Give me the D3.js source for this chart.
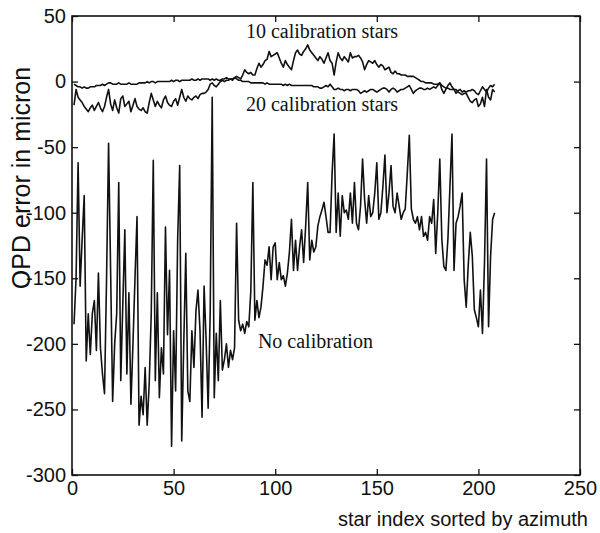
<!DOCTYPE html>
<html>
<head>
<meta charset="utf-8">
<script src="https://cdn.jsdelivr.net/npm/d3@7"></script>
<style>
  body { margin: 0; background: #fff; }
  .tick text { font-family: "Liberation Sans", Arial, sans-serif; font-size: 20px; fill: #111; }
  .note { font-family: "Liberation Serif", "Times New Roman", serif; font-size: 20px; fill: #111; }
</style>
</head>
<body>
<script>
// OPD error per star (micron)
const noCal = [
  -185, -150, -62, -156, -120, -87, -213, -177, -208, -177,
  -167, -205, -146, -203, -223, -238, -151, -47, -144, -244,
  -200, -177, -77, -228, -170, -113, -223, -161, -246, -200,
  -150, -103, -262, -240, -254, -218, -262, -230, -177, -60,
  -228, -161, -241, -203, -223, -111, -193, -144, -278, -190,
  -236, -120, -64, -274, -200, -131, -236, -244, -190, -218,
  -175, -159, -190, -256, -156, -197, -249, -177, -12, -241,
  -192, -228, -167, -220, -212, -200, -218, -205, -212, -203,
  -108, -182, -190, -185, -192, -183, -187, -160, -77, -182,
  -167, -180, -172, -156, -136, -140, -126, -151, -126, -123,
  -151, -138, -151, -148, -156, -146, -130, -105, -144, -121,
  -144, -126, -113, -138, -110, -77, -136, -121, -130, -126,
  -110, -103, -98, -92, -103, -115, -115, -70, -40, -115,
  -85, -118, -87, -100, -98, -105, -85, -108, -77, -108,
  -113, -95, -59, -90, -108, -87, -103, -100, -85, -62,
  -105, -100, -80, -56, -100, -85, -64, -95, -100, -85,
  -95, -105, -100, -97, -70, -41, -97, -105, -108, -103,
  -113, -103, -118, -115, -121, -103, -108, -90, -131, -100,
  -59, -120, -141, -144, -120, -80, -40, -144, -108, -103,
  -95, -85, -151, -172, -140, -115, -133, -174, -180, -187,
  -159, -192, -138, -59, -187, -133, -105, -100
];

const cal10 = [
  -18, -6, -12, -14, -16, -19, -21, -23, -20, -18,
  -22, -19, -16, -20, -23, -19, -12, -6, -17, -22,
  -14, -20, -24, -13, -11, -19, -17, -15, -23, -18,
  -13, -19, -21, -22, -20, -23, -24, -16, -9, -14,
  -19, -15, -18, -20, -14, -11, -16, -18, -19, -15,
  -13, -18, -12, -6, -12, -15, -11, -13, -14, -12,
  -11, -13, -10, -9, -9, -8, -6, -2, -1, -3,
  -4, -2, 0, 1, 0, 1, 1, 2, 1, 3,
  4, 3, 2, 5, 9, 7, 6, 7, 5, 5,
  10, 14, 11, 13, 16, 17, 23, 19, 20, 21,
  22, 18, 14, 11, 16, 13, 11, 9, 16, 22,
  24, 21, 20, 23, 25, 28, 24, 22, 20, 18,
  16, 19, 17, 14, 18, 22, 16, 14, 5, 15,
  22, 18, 16, 19, 17, 15, 22, 18, 19, 19,
  20, 18, 15, 9, 13, 16, 15, 14, 16, 13,
  11, 13, 12, 9, 10, 11, 7, 6, 8, 6,
  6, 5, 5, 5, 4, 4, 4, 4, 3, 2,
  1, 0, 0, -1, -1, -1, -1, -2, -2, -2,
  -1, -3, -4, -5, -5, -6, -6, -6, -6, -8,
  -9, -10, -9, -9, -12, -15, -16, -14, -13, -19,
  -17, -12, -19, -6, -12, -14, -6, -8
];

const cal20 = [
  -2, -3, -4, -4, -5, -4, -5, -5, -4, -4,
  -4, -3, -3, -3, -2, -3, -2, -1, -1, -2,
  -2, -2, -1, -2, -2, -2, -2, -1, -2, -2,
  -2, -2, -1, -1, -1, -1, 0, -1, 0, 0,
  -1, 0, 0, 0, 0, 0, 0, 0, 1, 0,
  1, 1, 0, 1, 1, 1, 1, 1, 2, 1,
  1, 2, 1, 2, 2, 2, 2, 1, 2, 1,
  2, 1, 1, 2, 2, 3, 2, 2, 2, 3,
  2, 1, 1, 0, 0, 0, 0, -1, -1, -1,
  -1, -1, -1, -1, -2, -1, -2, -2, -2, -2,
  -2, -2, -2, -3, -2, -3, -2, -3, -3, -3,
  -3, -3, -3, -3, -3, -3, -3, -3, -4, -4,
  -4, -5, -5, -4, -3, -4, -2, -4, -6, -6,
  -5, -6, -6, -7, -6, -6, -7, -6, -6, -6,
  -7, -9, -8, -7, -8, -7, -6, -6, -7, -8,
  -7, -6, -5, -5, -6, -8, -6, -5, -6, -8,
  -7, -6, -6, -5, -4, -3, -6, -9, -7, -6,
  -5, -5, -6, -6, -5, -6, -5, -4, -5, -3,
  -1, -6, -9, -6, -3, -1, -4, -6, -9, -7,
  -6, -8, -7, -8, -7, -7, -6, -7, -9, -10,
  -7, -4, -6, -8, -5, -3, -4, -2
];

const xTicks = [0, 50, 100, 150, 200, 250];
const yTicks = [50, 0, -50, -100, -150, -200, -250, -300];

// labels sit in data units
const notes = [
  {text: '10 calibration stars', x: 85.6, y: 33},
  {text: '20 calibration stars', x: 85.6, y: -22.5},
  {text: 'No calibration', x: 91.5, y: -203}
];

const margin = {top: 16, bottom: 58, left: 72, right: 20};
const width = 600 - margin.left - margin.right;
const height = 533 - margin.top - margin.bottom;

const svg = d3.select('body').append('svg')
  .attr('width', width + margin.left + margin.right)
  .attr('height', height + margin.top + margin.bottom);

const g = svg.append('g')
  .attr('transform', `translate(${margin.left},${margin.top})`);

const x = d3.scaleLinear().domain([0, 250]).range([0, width]);
const y = d3.scaleLinear().domain([-300, 50]).range([height, 0]);

const fmt = (d) => String(d);

// axes, ticks pointing inward like the matlab figure
g.append('g').attr('class', 'axis')
  .attr('transform', `translate(0,${height})`)
  .call(d3.axisBottom(x).tickValues(xTicks).tickSize(-6).tickPadding(6).tickFormat(fmt));
g.append('g').attr('class', 'axis')
  .call(d3.axisLeft(y).tickValues(yTicks).tickSize(-6).tickPadding(6).tickFormat(fmt));
g.append('g').attr('class', 'axis')
  .call(d3.axisTop(x).tickValues(xTicks).tickSize(-6).tickFormat(''));
g.append('g').attr('class', 'axis')
  .attr('transform', `translate(${width},0)`)
  .call(d3.axisRight(y).tickValues(yTicks).tickSize(-6).tickFormat(''));

g.selectAll('.axis path').remove();
g.selectAll('.axis line').attr('stroke', '#111').attr('stroke-width', 1.3);

g.append('rect')
  .attr('width', width)
  .attr('height', height)
  .attr('fill', 'none')
  .attr('stroke', '#111')
  .attr('stroke-width', 1.6);

// lines
const line = d3.line()
  .x((d, i) => x(i + 1))
  .y((d) => y(d));

[noCal, cal10, cal20].forEach((series) => {
  g.append('path')
    .datum(series)
    .attr('fill', 'none')
    .attr('stroke', '#111')
    .attr('stroke-width', 1.6)
    .attr('stroke-linejoin', 'round')
    .attr('d', line);
});

g.selectAll('.note')
  .data(notes)
  .join('text')
  .attr('class', 'note')
  .attr('x', (d) => x(d.x))
  .attr('y', (d) => y(d.y))
  .text((d) => d.text);

// axis titles
svg.append('text')
  .attr('x', 588)
  .attr('y', 526)
  .attr('text-anchor', 'end')
  .style('font-family', '"Liberation Sans", Arial, sans-serif')
  .style('font-size', '20px')
  .attr('fill', '#111')
  .text('star index sorted by azimuth');

svg.append('text')
  .attr('transform', 'translate(30,178) rotate(-90)')
  .attr('text-anchor', 'middle')
  .style('font-family', '"Liberation Sans", Arial, sans-serif')
  .style('font-size', '25px')
  .attr('fill', '#111')
  .text('OPD error in micron');
</script>
</body>
</html>
